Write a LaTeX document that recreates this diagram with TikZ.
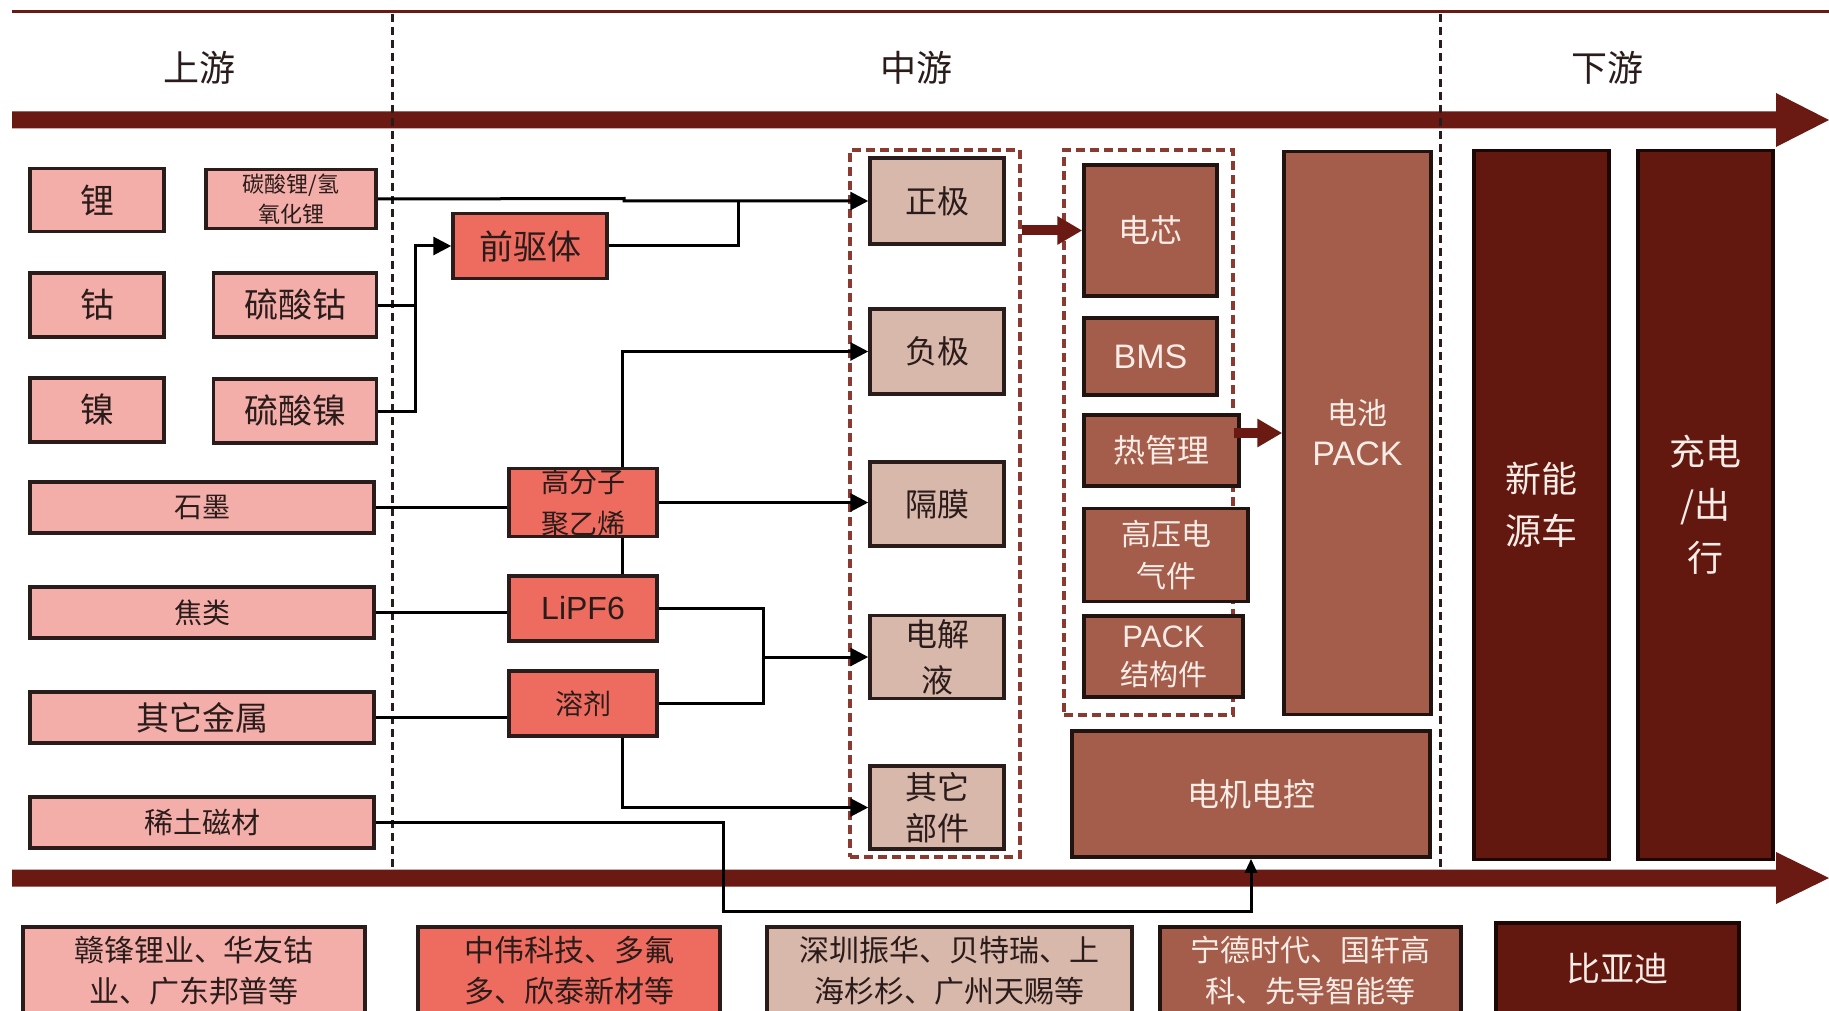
\documentclass[tikz,border=0pt]{standalone}
\usepackage{fontspec}
\setmainfont{Noto Sans CJK SC}
\newfontfamily\lat{Liberation Sans}
\usetikzlibrary{arrows.meta}
\definecolor{pinkL}{HTML}{F3AEAA}
\definecolor{redM}{HTML}{EE6B5F}
\definecolor{tanC}{HTML}{D9B8AC}
\definecolor{brownC}{HTML}{A45D4B}
\definecolor{maroonC}{HTML}{62170F}
\definecolor{arrowC}{HTML}{6A1A12}
\definecolor{dashC}{HTML}{8A3A30}
\definecolor{inkC}{HTML}{2A1C1A}
\definecolor{lightT}{HTML}{F8ECE6}
\newcommand\fsz[2]{\fontsize{#1}{#2}\selectfont}
\begin{document}
\begin{tikzpicture}[x=1pt,y=-1pt,
  bx/.style={draw=inkC, line width=3.5pt, inner sep=0pt, align=center, text=inkC},
  wh/.style 2 args={minimum width=#1, minimum height=#2},
  pk/.style={bx, fill=pinkL},
  rd/.style={bx, fill=redM},
  tn/.style={bx, fill=tanC},
  br/.style={bx, fill=brownC, text=lightT, draw=black!80!brownC},
  mr/.style={bx, fill=maroonC, text=lightT, draw=black!70!maroonC},
  dbox/.style={draw=dashC, line width=3.5pt, dash pattern=on 9pt off 5pt, inner sep=0pt},
  vdash/.style={draw=inkC, line width=3pt, dash pattern=on 8pt off 5pt},
  cn/.style={draw=black, line width=3pt},
  cnA/.style={cn, -{Triangle[length=18pt,width=18pt]}},
  thk/.style={draw=arrowC, line width=10pt, -{Triangle[length=25pt,width=27pt]}},
  hdr/.style={font=\fsz{36}{40}, text=inkC, inner sep=0pt}]
\path[use as bounding box, fill=white] (0,0) rectangle (1829,1011);

% top thin line
\draw[arrowC, line width=3pt] (12,12) -- (1829,12);

% big arrows
\fill[arrowC] (12,111.5) -- (1776,111.5) -- (1776,93) -- (1829,120) -- (1776,147) -- (1776,128.5) -- (12,128.5) -- cycle;
\fill[arrowC] (12,869.5) -- (1776,869.5) -- (1776,852) -- (1829,878) -- (1776,904) -- (1776,886.5) -- (12,886.5) -- cycle;

% dashed separators
\draw[vdash] (392,14) -- (392,870);
\draw[vdash] (1440,14) -- (1440,870);

% headers
\node[hdr] (hup) at (199,68) {上游};
\node[hdr] (hmid) at (916,68) {中游};
\node[hdr] (hdown) at (1607,68) {下游};

% upstream boxes
\node[pk, wh={134}{63}, font=\fsz{34}{38}] (li) at (97,200) {锂};
\node[pk, wh={170}{59}, font=\fsz{22}{30}] (tansuan) at (291,199) {碳酸锂/氢\\氧化锂};
\node[pk, wh={134}{64}, font=\fsz{34}{38}] (gu) at (97,305) {钴};
\node[pk, wh={163}{64}, font=\fsz{34}{38}] (liugu) at (295,305) {硫酸钴};
\node[pk, wh={134}{64}, font=\fsz{34}{38}] (nie) at (97,410) {镍};
\node[pk, wh={163}{64}, font=\fsz{34}{38}] (liunie) at (295,411) {硫酸镍};
\node[pk, wh={344}{51}, font=\fsz{28}{32}] (shimo) at (202,507.5) {石墨};
\node[pk, wh={344}{51}, font=\fsz{28}{32}] (jiaolei) at (202,612.5) {焦类};
\node[pk, wh={344}{51}, font=\fsz{33}{36}] (qita) at (202,717.5) {其它金属};
\node[pk, wh={344}{51}, font=\fsz{29}{32}] (xitu) at (202,822.5) {稀土磁材};

% intermediate red boxes
\node[rd, wh={154}{65}, font=\fsz{34}{38}] (qianqu) at (530,246) {前驱体};
\node[rd, wh={148}{65}, font=\fsz{28}{42}] (gaofenzi) at (583,502.5) {高分子\\聚乙烯};
\node[rd, wh={148}{65}, font=\lat\fsz{32}{36}] (lipf6) at (583,608.5) {LiPF6};
\node[rd, wh={148}{65}, font=\fsz{28}{32}] (rongji) at (583,703.5) {溶剂};

% dashed groups
\node[dbox, wh={170}{707}] (dash1) at (935,503.5) {};
\node[dbox, wh={169}{565}] (dash2) at (1148.5,432.5) {};

% materials
\node[tn, wh={134}{86}, font=\fsz{32}{36}] (zhengji) at (937,201) {正极};
\node[tn, wh={134}{85}, font=\fsz{32}{36}] (fuji) at (937,351.5) {负极};
\node[tn, wh={134}{84}, font=\fsz{32}{36}] (geomo) at (937,504) {隔膜};
\node[tn, wh={134}{83}, font=\fsz{32}{46}] (dianjie) at (937,657) {电解\\液};
\node[tn, wh={134}{83}, font=\fsz{32}{41}] (qitabj) at (937,807.5) {其它\\部件};

% cell components
\node[br, wh={133}{131}, font=\fsz{32}{36}] (dianxin) at (1150.5,230.5) {电芯};
\node[br, wh={133}{77}, font=\lat\fsz{34}{38}] (bms) at (1150.5,356.5) {BMS};
\node[br, wh={155}{71}, font=\fsz{32}{36}] (reguanli) at (1161.5,450.5) {热管理};
\node[br, wh={164}{93}, font=\fsz{30}{42}] (gaoya) at (1166,555) {高压电\\气件};
\node[br, wh={159}{81}, font=\fsz{29}{38}] (packjg) at (1163.5,656.5) {{\lat\fontsize{31}{38}\selectfont PACK}\\结构件};
\node[br, wh={147}{563}, font=\fsz{30}{41}] (pack) at (1357.5,433) {电池\\{\lat\fontsize{34}{41}\selectfont PACK}};
\node[br, wh={358}{126}, font=\fsz{32}{36}] (dianji) at (1251,794) {电机电控};

% downstream
\node[mr, wh={135}{709}, font=\fsz{36}{52}] (xny) at (1541.5,505) {新能\\源车};
\node[mr, wh={135}{709}, font=\fsz{36}{53}] (cd) at (1705.5,505) {充电\\/出\\行};

% bottom company boxes
\node[pk, wh={342}{88}, font=\fsz{30}{41}] (c1) at (194,971) {赣锋锂业、华友钴\\业、广东邦普等};
\node[rd, wh={302}{88}, font=\fsz{30}{41}] (c2) at (569,971) {中伟科技、多氟\\多、欣泰新材等};
\node[tn, wh={365}{88}, font=\fsz{30}{41}] (c3) at (949.5,971) {深圳振华、贝特瑞、上\\海杉杉、广州天赐等};
\node[br, wh={301}{88}, font=\fsz{30}{41}] (c4) at (1310.5,971) {宁德时代、国轩高\\科、先导智能等};
\node[mr, wh={243}{92}, font=\fsz{34}{38}] (c5) at (1617.5,969) {比亚迪};

% connectors
\coordinate (j1) at (415,246);
\coordinate (v1) at (622,0);
\coordinate (v2) at (763,0);
\coordinate (v3) at (723,911);
\draw[cnA] (tansuan.east) -- (624,198.5) |- (zhengji.west);
\draw[cn] (liugu.east) -| (j1);
\draw[cnA] (liunie.east) -| (j1) -- (qianqu.west);
\draw[cn] (qianqu.east) -| (738,201);
\draw[cn] (shimo.east) -- (shimo.east -| gaofenzi.west);
\draw[cnA] (gaofenzi.east) -- (gaofenzi.east -| geomo.west);
\draw[cn] (lipf6.north -| v1) -- (gaofenzi.south -| v1);
\draw[cnA] (gaofenzi.north -| v1) |- (fuji.west);
\draw[cn] (jiaolei.east) -- (jiaolei.east -| lipf6.west);
\draw[cn] (qita.east) -- (qita.east -| rongji.west);
\draw[cn] (lipf6.east) -- (lipf6.east -| v2) -- (rongji.east -| v2) -- (rongji.east);
\draw[cnA] (dianjie.west -| v2) -- (dianjie.west);
\draw[cnA] (rongji.south -| v1) |- (qitabj.west);
\draw[cn, -{Triangle[length=14pt,width=12pt]}] (xitu.east) -| (v3) -| (dianji.south);

% thick arrows
\draw[thk] (dianxin.west -| dash1.east) -- (dianxin.west);
\coordinate (a2) at (1234,433);
\draw[thk] (a2) -- (a2 -| pack.west);
\end{tikzpicture}
\end{document}
